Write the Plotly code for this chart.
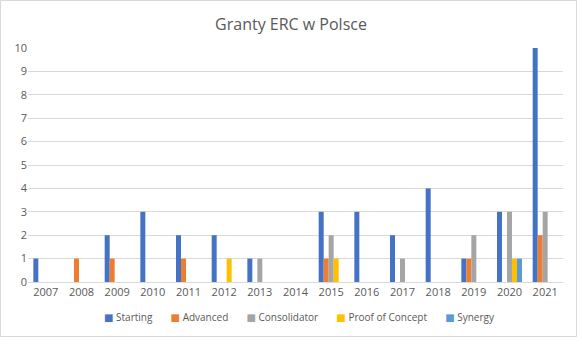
import plotly.graph_objects as go

years = ["2007","2008","2009","2010","2011","2012","2013","2014","2015","2016","2017","2018","2019","2020","2021"]
starting     = [1,0,2,3,2,2,1,0,3,3,2,4,1,3,10]
advanced     = [0,1,1,0,1,0,0,0,1,0,0,0,1,0,2]
consolidator = [0,0,0,0,0,0,1,0,2,0,1,0,2,3,3]
poc          = [0,0,0,0,0,1,0,0,1,0,0,0,0,1,0]
synergy      = [0,0,0,0,0,0,0,0,0,0,0,0,0,1,0]

series = [
    ("Starting", starting, "#4472C4"),
    ("Advanced", advanced, "#ED7D31"),
    ("Consolidator", consolidator, "#A5A5A5"),
    ("Proof of Concept", poc, "#FFC000"),
    ("Synergy", synergy, "#5B9BD5"),
]

W, H = 582, 351
L, R, T, B = 28, 19, 48, 69
pw = W - L - R
ph = H - T - B

fig = go.Figure()
for name, vals, col in series:
    fig.add_trace(go.Bar(x=years, y=vals, name=name, marker_color=col, marker_line_width=0,
                         showlegend=False))

# compact Excel-like legend built from the series list
legend_text = "&nbsp;&nbsp;&nbsp;&nbsp;&nbsp;&nbsp;&nbsp;".join(
    f"<span style='color:{col}; font-family:DejaVu Sans; font-size:10px'>■</span> {name}"
    for name, _, col in series)

font = "Open Sans"
fig.update_layout(
    width=W, height=H,
    margin=dict(l=L, r=R, t=T, b=B, pad=0),
    paper_bgcolor="white", plot_bgcolor="white",
    barmode="group", bargap=0.3, bargroupgap=0,
    title=dict(text="Granty ERC w Polsce", x=0.5, xanchor="center", y=1 - 24/H, yanchor="middle",
               font=dict(family=font, size=16, color="#595959")),
    font=dict(family=font, size=11, color="#595959"),
    xaxis=dict(type="category", showgrid=False, showline=True, linecolor="#D9D9D9", linewidth=1,
               ticks="", tickfont=dict(size=11, color="#595959")),
    yaxis=dict(range=[0, 10], dtick=1, showgrid=True, gridcolor="#D9D9D9", gridwidth=1,
               zeroline=False, showline=False, ticks="", ticklen=0,
               tickfont=dict(size=11, color="#595959")),
    annotations=[dict(text=legend_text, xref="paper", yref="paper",
                      x=(299 - L)/pw, y=(282 - 317)/ph, xanchor="center", yanchor="middle",
                      showarrow=False, font=dict(family=font, size=10, color="#595959"))],
    shapes=[dict(type="rect", xref="paper", yref="paper",
                 x0=(0.5 - L)/pw, x1=(576.5 - L)/pw,
                 y0=(282 - 336.5)/ph, y1=(282 - 0.5)/ph,
                 line=dict(color="#D9D9D9", width=1), fillcolor="rgba(0,0,0,0)", layer="below")],
)
fig.write_html("out.html")
